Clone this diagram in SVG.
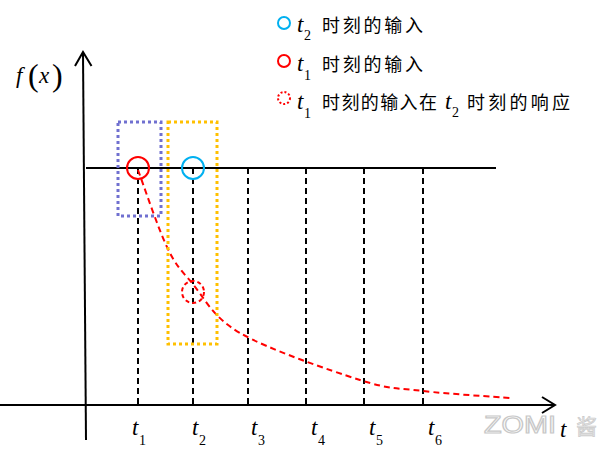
<svg xmlns="http://www.w3.org/2000/svg" width="612" height="451" viewBox="0 0 612 451">
<style>
.ax{stroke:#000;stroke-width:2;fill:none}
.vd{stroke:#000;stroke-width:2;stroke-dasharray:6,4;fill:none}
.math{font-family:"Liberation Serif","DejaVu Serif",serif;font-style:italic;font-size:23px;fill:#000}
.par{font-family:"Liberation Serif","DejaVu Serif",serif;font-style:normal;font-size:32px;fill:#000}
.sub{font-family:"Liberation Serif","DejaVu Serif",serif;font-size:14px;fill:#000}
.cn{font-family:"Noto Sans CJK SC",sans-serif;font-size:18px;fill:#000}
</style>
<rect width="612" height="451" fill="#fff"/>
<g id="watermark">
<text x="484" y="433" font-family="Liberation Sans,sans-serif" font-size="24" fill="#fff" stroke="#c8c8c8" stroke-width="1.2" textLength="72" lengthAdjust="spacingAndGlyphs">ZOMI</text>
<text x="576" y="434" font-family="Noto Sans CJK SC,sans-serif" font-size="21" fill="#e4e4e4" stroke="#c8c8c8" stroke-width="0.6">酱</text>
</g>
<g id="connectors">
<line class="ax" x1="86" y1="440" x2="83" y2="53"/>
<polyline class="ax" points="75,66 83,52 91.5,66"/>
<line class="ax" x1="0" y1="405" x2="554" y2="405"/>
<polyline class="ax" points="542,397 555,405 542,413"/>
<line class="ax" x1="86" y1="168" x2="496" y2="168"/>
<line class="vd" x1="138" y1="168" x2="138" y2="405"/>
<line class="vd" x1="193" y1="168" x2="193" y2="405"/>
<line class="vd" x1="248" y1="168" x2="248" y2="405"/>
<line class="vd" x1="306" y1="168" x2="306" y2="405"/>
<line class="vd" x1="364" y1="168" x2="364" y2="405"/>
<line class="vd" x1="423" y1="168" x2="423" y2="405"/>
<path d="M138,170 C142.8,182.8 158,228.2 167,247 C176,265.8 179.8,268.7 192,283 C204.2,297.3 212,316.8 240,333 C268,349.2 329.5,370.3 360,380 C390.5,389.7 398,388 423,391 C448,394 495.5,396.8 510,398" fill="none" stroke="#f00" stroke-width="2" stroke-dasharray="6,4"/>
</g>
<g id="box-t1">
<rect x="118" y="122" width="43" height="94" fill="none" stroke="#7070d0" stroke-width="3" stroke-dasharray="3,3"/>
</g>
<g id="box-t2">
<rect x="168" y="122" width="49" height="222" fill="none" stroke="#ffc000" stroke-width="3" stroke-dasharray="3,3"/>
</g>
<g id="input-t1"><circle cx="138" cy="168" r="11" fill="none" stroke="#f00" stroke-width="2"/></g>
<g id="input-t2"><circle cx="193" cy="168" r="11" fill="none" stroke="#00b0f0" stroke-width="2"/></g>
<g id="response"><circle cx="193" cy="292" r="11" fill="none" stroke="#f00" stroke-width="2" stroke-dasharray="4,3"/></g>
<g id="ylabel">
<text class="math" x="16" y="83">f</text>
<text class="par" x="28" y="86" font-weight="300">(</text>
<text class="math" x="39" y="83">x</text>
<text class="par" x="52" y="86" font-weight="300">)</text>
</g>
<g id="ticks">
<text class="math" x="132" y="435">t</text><text class="sub" x="139" y="445">1</text>
<text class="math" x="192" y="435">t</text><text class="sub" x="199" y="445">2</text>
<text class="math" x="251" y="435">t</text><text class="sub" x="258" y="445">3</text>
<text class="math" x="311" y="435">t</text><text class="sub" x="318" y="445">4</text>
<text class="math" x="369" y="435">t</text><text class="sub" x="376" y="445">5</text>
<text class="math" x="428" y="435">t</text><text class="sub" x="435" y="445">6</text>
<text class="math" x="560" y="437">t</text>
</g>
<g id="legend">
<circle cx="284" cy="23" r="6" fill="none" stroke="#00b0f0" stroke-width="2"/>
<text class="math" x="297" y="32">t</text><text class="sub" x="304" y="40">2</text>
<text class="cn" x="322" y="32" textLength="101">时刻的输入</text>
<circle cx="284" cy="61" r="6" fill="none" stroke="#f00" stroke-width="2"/>
<text class="math" x="297" y="71">t</text><text class="sub" x="304" y="80">1</text>
<text class="cn" x="322" y="71" textLength="101">时刻的输入</text>
<circle cx="284" cy="98" r="6" fill="none" stroke="#f00" stroke-width="2" stroke-dasharray="2,2"/>
<text class="math" x="297" y="109">t</text><text class="sub" x="304" y="118">1</text>
<text class="cn" x="322" y="109" textLength="115">时刻的输入在</text>
<text class="math" x="445" y="109">t</text><text class="sub" x="452" y="117">2</text>
<text class="cn" x="467" y="109" textLength="103">时刻的响应</text>
</g>
</svg>
